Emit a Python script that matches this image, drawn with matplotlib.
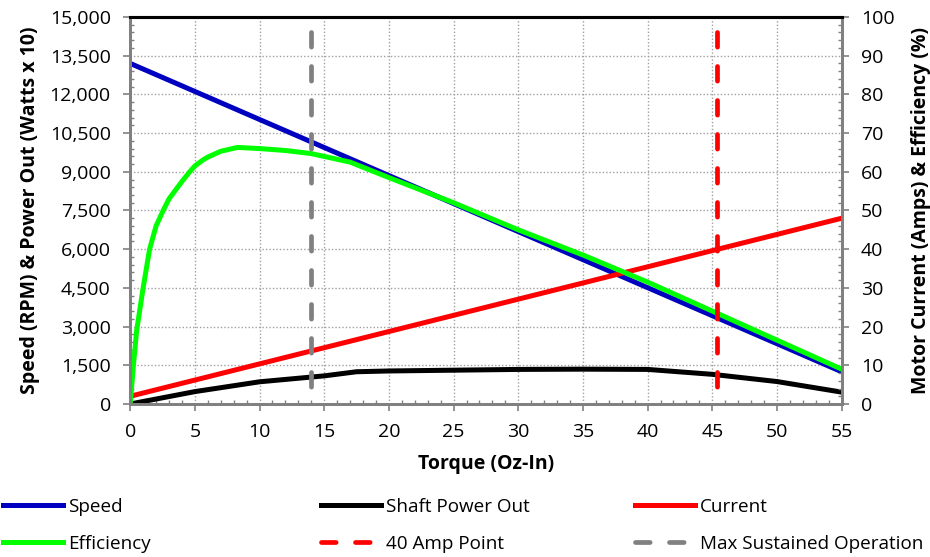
import matplotlib
matplotlib.use("Agg")
import matplotlib.pyplot as plt
from matplotlib.ticker import MultipleLocator, FuncFormatter

plt.rcParams['font.family'] = ['Open Sans', 'DejaVu Sans']

# torque axis (Oz-In)
torque_lin = [0, 55]
speed = [13200, 1250]          # RPM
current = [2, 48]              # Amps

power_torque = [0, 5, 10, 15, 17.5, 20, 25, 30, 35, 40, 45, 50, 55]
power = [0, 480, 860, 1090, 1250, 1280, 1310, 1340, 1350, 1340, 1150, 870, 460]

eff_torque = [0, 0.25, 0.5, 1, 1.5, 2, 2.55, 3, 4, 4.6, 5, 5.6, 6, 7, 8.3, 10, 12, 14, 17, 20, 25, 30, 35, 40, 45, 50, 55]
efficiency = [0, 10, 19, 30, 40, 46, 50, 53, 57.5, 60, 61.5, 63, 63.8, 65.3, 66.3, 66, 65.5, 64.7, 62.5, 58.5, 52, 45, 38.5, 31.5, 24, 16.5, 9]

max_sustained_x = 14
amp40_x = 45.4
marker_top = 96

fig = plt.figure(figsize=(9.3, 5.57), dpi=100)
ax = fig.add_axes([0.14, 0.2747, 0.765, 0.6948])
ax2 = ax.twinx()

lw = 3.6
l_speed, = ax.plot(torque_lin, speed, color='#0000C0', lw=lw, label='Speed')
l_power, = ax.plot(power_torque, power, color='black', lw=lw, label='Shaft Power Out')
l_cur, = ax2.plot(torque_lin, current, color='#FF0000', lw=lw, label='Current')
l_eff, = ax2.plot(eff_torque, efficiency, color='#00FF00', lw=lw, label='Efficiency',
                  solid_joinstyle='round')
l_40, = ax2.plot([amp40_x, amp40_x], [marker_top, 0], color='#FF0000', lw=3.4,
                 dashes=(3.1, 4.1), dash_capstyle='round', label='40 Amp Point')
l_max, = ax2.plot([max_sustained_x, max_sustained_x], [marker_top, 0], color='#808080', lw=3.4,
                  dashes=(3.1, 4.1), dash_capstyle='round', label='Max Sustained Operation')

ax.set_xlim(0, 55)
ax.set_ylim(0, 15000)
ax2.set_ylim(0, 100)

ax.xaxis.set_major_locator(MultipleLocator(5))
ax.xaxis.set_minor_locator(MultipleLocator(1))
ax.yaxis.set_major_locator(MultipleLocator(1500))
ax.yaxis.set_minor_locator(MultipleLocator(300))
ax.yaxis.set_major_formatter(FuncFormatter(lambda v, p: f"{int(v):,}"))
ax2.yaxis.set_major_locator(MultipleLocator(10))
ax2.yaxis.set_minor_locator(MultipleLocator(2))

ax.grid(True, which='major', color='#A0A0A0', linestyle=(0, (1, 1.5)), lw=1)
ax.set_axisbelow(True)

for a in (ax, ax2):
    a.tick_params(which='major', direction='out', length=5, width=1.2, color='#808080',
                  labelsize=14, pad=9)
    a.tick_params(which='minor', direction='in', length=3, width=1, color='#808080')
    for s in ('left', 'right', 'bottom'):
        a.spines[s].set_color('#808080')
        a.spines[s].set_linewidth(2)
    a.spines['top'].set_color('black')
    a.spines['top'].set_linewidth(2.2)

ax.set_xlabel('Torque (Oz-In)', fontsize=14, fontweight='bold', labelpad=9)
ax.set_ylabel('Speed (RPM) & Power Out (Watts x 10)', fontsize=14, fontweight='bold', labelpad=7)
ax2.set_ylabel('Motor Current (Amps) & Efficiency (%)', fontsize=14, fontweight='bold', labelpad=12)

# legend below the plot: three columns placed separately
legend_cols = [[l_speed, l_eff], [l_power, l_40], [l_cur, l_max]]
col_x = [3 / 930, 321 / 930, 635 / 930]
for hs, x0 in zip(legend_cols, col_x):
    leg = fig.legend(handles=hs, labels=[h.get_label() for h in hs],
                     loc='lower left', bbox_to_anchor=(x0, 0.008), frameon=False,
                     fontsize=13.6, handlelength=3.2, handletextpad=0.25,
                     labelspacing=1.0, borderaxespad=0.0, borderpad=0.0)

fig.savefig('out.png', dpi=100)
